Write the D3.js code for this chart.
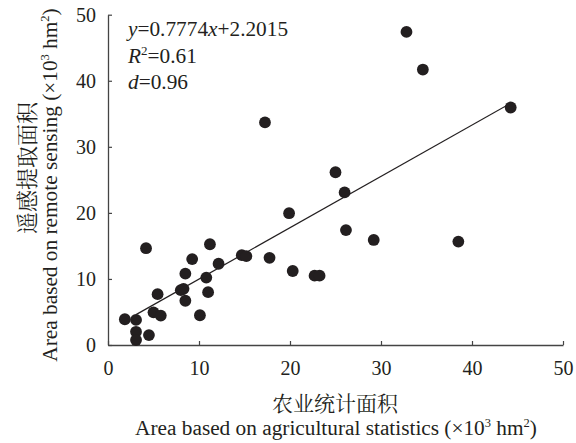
<!DOCTYPE html>
<html>
<head>
<meta charset="utf-8">
<script src="https://cdn.jsdelivr.net/npm/d3@7"></script>
<style>
  body { margin: 0; background: #fff; }
</style>
</head>
<body>
<svg id="chart" width="576" height="443"></svg>
<script>
// agricultural statistics (x) vs remote sensing (y), 10^3 hm2
const agriStats = [1.85, 3.08, 3.08, 3.08, 4.5, 5.0, 5.8, 5.45, 4.18, 8.0, 8.3, 8.5,
  10.1, 11.0, 8.5, 10.8, 9.25, 12.15, 11.2, 14.7, 15.2, 17.75, 20.3, 22.7, 23.25,
  19.9, 17.25, 25.0, 26.0, 26.15, 29.2, 38.5, 32.8, 34.6, 44.25];
const remoteSensing = [3.9, 3.8, 2.0, 0.75, 1.5, 4.95, 4.45, 7.7, 14.65, 8.3, 8.5, 6.7,
  4.5, 8.0, 10.8, 10.2, 13.0, 12.3, 15.25, 13.6, 13.45, 13.2, 11.2, 10.5, 10.5,
  19.95, 33.7, 26.15, 23.1, 17.4, 15.9, 15.65, 47.4, 41.7, 35.95];
const xTicks = [0, 10, 20, 30, 40, 50];
const yTicks = [0, 10, 20, 30, 40, 50];
const slope = 0.7774, intercept = 2.2015;
const fitRange = [3.08, 44.25];

const SERIF = "Liberation Serif";
const CJK = "'Noto Serif CJK SC', 'Noto Sans CJK SC', serif";
const INK = "#231f20";

const svg = d3.select("#chart");
const x = d3.scaleLinear().domain([0, 50]).range([108, 563]);
const y = d3.scaleLinear().domain([0, 50]).range([345, 14.7]);

// axes, ticks pointing inward
let xAxis = svg.append("g").attr("transform", "translate(0,345)")
  .call(d3.axisBottom(x).tickValues(xTicks).tickSizeInner(-4).tickSizeOuter(0).tickPadding(14));
let yAxis = svg.append("g").attr("transform", "translate(108,0)")
  .call(d3.axisLeft(y).tickValues(yTicks).tickSizeInner(-4).tickSizeOuter(0).tickPadding(12));
[xAxis, yAxis].forEach(g => {
  g.select(".domain").attr("stroke", "#444").attr("stroke-width", 1.3);
  g.selectAll(".tick line").attr("stroke", "#444").attr("stroke-width", 1.2);
  g.selectAll(".tick text")
    .style("font-family", SERIF).style("font-size", "20px").attr("fill", INK);
});
xAxis.selectAll(".tick text").attr("dy", "0.71em").attr("y", 16);

// fitted line
svg.append("line")
  .attr("x1", x(fitRange[0])).attr("y1", y(slope * fitRange[0] + intercept))
  .attr("x2", x(fitRange[1])).attr("y2", y(slope * fitRange[1] + intercept))
  .attr("stroke", INK).attr("stroke-width", 1.2);

// points
svg.append("g").selectAll("circle")
  .data(agriStats.map((v, i) => ({ax: v, rs: remoteSensing[i]})))
  .join("circle")
    .attr("cx", d => x(d.ax))
    .attr("cy", d => y(d.rs))
    .attr("r", 5.9)
    .attr("fill", INK);

let addText = function(sel, size, family) {
  return sel.append("text").style("font-family", family || SERIF)
    .style("font-size", size + "px").attr("fill", INK);
};

// equation text
let t1 = addText(svg, 21.3).attr("x", 128).attr("y", 36);
t1.append("tspan").style("font-style", "italic").text("y");
t1.append("tspan").text("=0.7774");
t1.append("tspan").style("font-style", "italic").text("x");
t1.append("tspan").text("+2.2015");
let t2 = addText(svg, 21.3).attr("x", 128).attr("y", 63);
t2.append("tspan").style("font-style", "italic").text("R");
t2.append("tspan").style("font-size", "13px").attr("dy", -8).text("2");
t2.append("tspan").attr("dy", 8).text("=0.61");
let t3 = addText(svg, 21.3).attr("x", 128).attr("y", 89);
t3.append("tspan").style("font-style", "italic").text("d");
t3.append("tspan").text("=0.96");

let unitTail = function(t) {
  t.append("tspan").style("font-size", "12.5px").attr("dy", -8).text("3");
  t.append("tspan").attr("dy", 8).text(" hm");
  t.append("tspan").style("font-size", "12.5px").attr("dy", -8).text("2");
  t.append("tspan").attr("dy", 8).text(")");
};

// x axis titles
addText(svg, 21, CJK).attr("x", 335).attr("y", 411)
  .attr("text-anchor", "middle").text("农业统计面积");
let xt = addText(svg, 21.3).attr("x", 336).attr("y", 435).attr("text-anchor", "middle");
xt.append("tspan").text("Area based on agricultural statistics (×10");
unitTail(xt);

// y axis titles
addText(svg, 22, CJK).attr("transform", "translate(35,168) rotate(-90)")
  .attr("text-anchor", "middle").text("遥感提取面积");
let yt = addText(svg, 21.3).attr("transform", "translate(57,185) rotate(-90)")
  .attr("text-anchor", "middle");
yt.append("tspan").text("Area based on remote sensing (×10");
unitTail(yt);
</script>
</body>
</html>
